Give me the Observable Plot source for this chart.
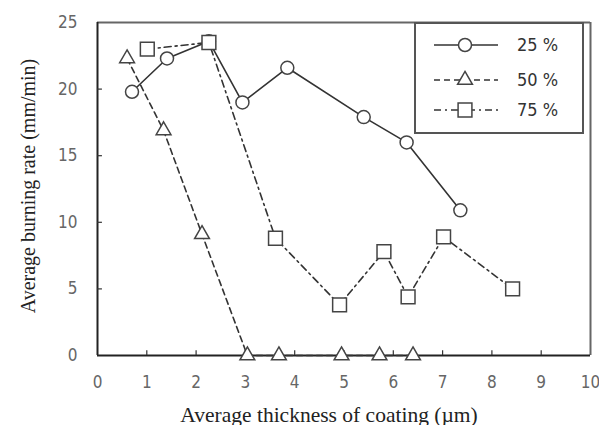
<!DOCTYPE html>
<html><head><meta charset="utf-8">
<script src="https://cdn.jsdelivr.net/npm/d3@7"></script>
<script src="https://cdn.jsdelivr.net/npm/@observablehq/plot@0.6"></script>
<style>
body{margin:0;background:#fff;}
#chart{position:relative;width:599px;height:425px;}
#legend{position:absolute;left:414px;top:22px;}
</style></head><body><div id="chart"></div>
<script>
const seriesNames = ["25 %", "50 %", "75 %"];
const x25 = [0.70, 1.41, 2.26, 2.94, 3.85, 5.40, 6.27, 7.36];
const y25 = [19.8, 22.3, 23.6, 19.0, 21.6, 17.9, 16.0, 10.9];
const x50 = [0.60, 1.34, 2.12, 3.04, 3.68, 4.95, 5.72, 6.40];
const y50 = [22.3, 16.9, 9.1, 0, 0, 0, 0, 0];
const x75 = [1.01, 2.26, 3.61, 4.91, 5.81, 6.30, 7.02, 8.42];
const y75 = [23.0, 23.5, 8.8, 3.8, 7.8, 4.4, 8.9, 5.0];
const xTicks = [0, 1, 2, 3, 4, 5, 6, 7, 8, 9, 10];
const yTicks = [0, 5, 10, 15, 20, 25];
const xLabel = "Average thickness of coating (µm)";
const yLabel = "Average burning rate (mm/min)";

const symbols = ["circle", "triangle", "square"];
const symbolR = [6.5, 5.5, 7.8];
const dashes = [null, "6,4", "7,4,2,4"];
const xs = [x25, x50, x75], ys = [y25, y50, y75];
const rows = seriesNames.flatMap((s, i) => xs[i].map((x, j) => ({series: s, x, y: ys[i][j]})));

const tickFont = '"Liberation Sans Narrow","DejaVu Sans Condensed","Liberation Sans",sans-serif';
const titleFont = '"Liberation Serif","DejaVu Serif",serif';

const marks = [
  Plot.axisX({ticks: xTicks, tickSize: 0, tickPadding: 20, label: null, tickFormat: d => d}),
  Plot.axisY({ticks: yTicks, tickSize: 0, tickPadding: 20, label: null, tickFormat: d => d}),
  Plot.ruleY([25], {stroke: "#666", strokeWidth: 2}),
  Plot.ruleX([10], {stroke: "#666", strokeWidth: 2}),
  Plot.ruleX([0], {stroke: "#222", strokeWidth: 2}),
  Plot.ruleY([0], {stroke: "#222", strokeWidth: 2}),
  Plot.ruleX(xTicks.slice(1, -1), {x: d => d, y1: 0, y2: 0.35, stroke: "#333", strokeWidth: 1.2}),
  Plot.ruleY(yTicks.slice(1, -1), {y: d => d, x1: 0, x2: 0.1, stroke: "#333", strokeWidth: 1.2})
];
seriesNames.forEach((s, i) => {
  marks.push(Plot.line(rows.filter(d => d.series === s), {x: "x", y: "y", stroke: "#333", strokeWidth: 1.6, strokeDasharray: dashes[i]}));
});
seriesNames.forEach((s, i) => {
  marks.push(Plot.dot(rows.filter(d => d.series === s), {x: "x", y: "y", symbol: symbols[i], r: symbolR[i], fill: "white", stroke: "#444", strokeWidth: 1.5}));
});
marks.push(Plot.text([xLabel], {frameAnchor: "bottom", textAnchor: "middle", dx: -15, dy: 66, fontFamily: titleFont, fontSize: 21.5, fill: "#222"}));
marks.push(Plot.text([yLabel], {frameAnchor: "left", textAnchor: "middle", rotate: -90, dx: -69, dy: -3, fontFamily: titleFont, fontSize: 20, fill: "#222"}));

const chart = Plot.plot({
  width: 599, height: 425,
  marginLeft: 97, marginRight: 9, marginTop: 22, marginBottom: 70,
  x: {domain: [0, 10]},
  y: {domain: [0, 25]},
  style: {fontFamily: tickFont, fontSize: "17px", color: "#666", background: "white"},
  marks
});
const root = document.getElementById("chart");
root.appendChild(chart);

// legend box inside the plot
const lw = 170, lh = 112;
const leg = d3.create("svg").attr("id", "legend").attr("width", lw).attr("height", lh);
leg.append("rect").attr("x", 1).attr("y", 1).attr("width", lw - 2).attr("height", lh - 2)
  .attr("fill", "white").attr("stroke", "#555").attr("stroke-width", 2);
const rowY = [23, 58, 88];
const d3sym = {circle: d3.symbolCircle, triangle: d3.symbolTriangle, square: d3.symbolSquare};
seriesNames.forEach((s, i) => {
  const g = leg.append("g").attr("transform", `translate(0,${rowY[i]})`);
  g.append("line").attr("x1", 20).attr("x2", 84).attr("stroke", "#333").attr("stroke-width", 1.6)
    .attr("stroke-dasharray", dashes[i]);
  g.append("path").attr("transform", "translate(51,0)")
    .attr("d", d3.symbol(d3sym[symbols[i]], Math.PI * symbolR[i] * symbolR[i])())
    .attr("fill", "white").attr("stroke", "#444").attr("stroke-width", 1.5);
  g.append("text").attr("x", 103).attr("dy", "0.35em").attr("font-family", tickFont)
    .attr("font-size", 18).attr("fill", "#333").text(s);
});
root.appendChild(leg.node());
</script></body></html>
